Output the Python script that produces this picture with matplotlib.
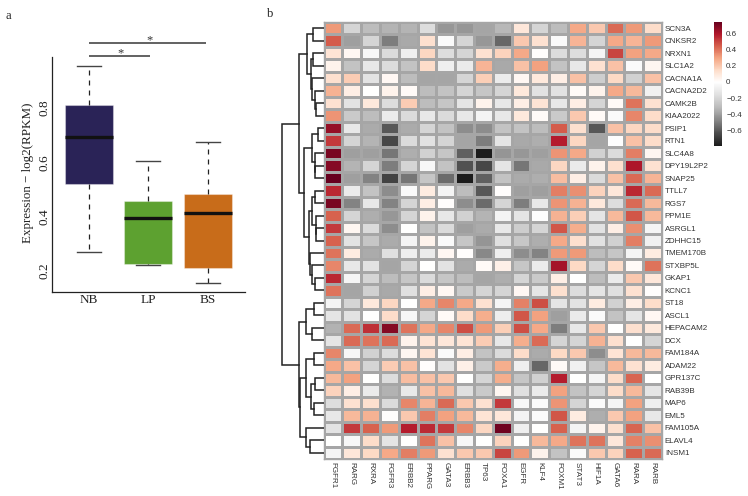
import numpy as np
import matplotlib
matplotlib.use('Agg')
import matplotlib.pyplot as plt
from matplotlib.colors import LinearSegmentedColormap, Normalize

W, H = 748, 496

groups = ['NB', 'LP', 'BS']
whisker_high = [0.953, 0.605, 0.673]
q3 = [0.809, 0.456, 0.482]
medians = [0.694, 0.394, 0.412]
q1 = [0.520, 0.226, 0.212]
whisker_low = [0.271, 0.221, 0.157]
box_colors = ['#2A2357', '#5DA130', '#C86C1A']
y_ticks = [0.2, 0.4, 0.6, 0.8]

genes = ['SCN3A', 'CNKSR2', 'NRXN1', 'SLC1A2', 'CACNA1A', 'CACNA2D2', 'CAMK2B', 'KIAA2022',
         'PSIP1', 'RTN1', 'SLC4A8', 'DPY19L2P2', 'SNAP25', 'TTLL7', 'RGS7', 'PPM1E', 'ASRGL1',
         'ZDHHC15', 'TMEM170B', 'STXBP5L', 'GKAP1', 'KCNC1', 'ST18', 'ASCL1', 'HEPACAM2', 'DCX',
         'FAM184A', 'ADAM22', 'GPR137C', 'RAB39B', 'MAP6', 'EML5', 'FAM105A', 'ELAVL4', 'INSM1']
factors = ['FGFR1', 'RARG', 'RXRA', 'FGFR3', 'ERBB2', 'PPARG', 'GATA3', 'ERBB3', 'TP63',
           'FOXA1', 'EGFR', 'KLF4', 'FOXM1', 'STAT3', 'HIF1A', 'GATA6', 'RARA', 'RARB']

corr = np.array([
    [0.32, -0.20, -0.30, -0.33, -0.33, -0.17, -0.42, -0.42, -0.38, -0.32, 0.10, -0.20, -0.30, 0.28, 0.20, 0.42, 0.32, 0.14],
    [0.45, -0.40, -0.20, -0.50, -0.37, 0.13, -0.03, -0.20, -0.42, -0.56, 0.20, 0.12, -0.03, 0.25, -0.20, 0.28, 0.25, 0.32],
    [0.11, 0.03, -0.04, -0.18, -0.08, 0.16, -0.17, -0.20, 0.12, 0.17, 0.28, 0.01, -0.17, -0.17, -0.05, 0.50, 0.30, 0.28],
    [0.05, -0.28, -0.12, -0.17, -0.28, 0.14, -0.08, -0.10, 0.25, -0.37, 0.22, 0.30, -0.28, -0.12, 0.12, 0.22, -0.03, 0.04],
    [0.13, 0.19, -0.14, 0.03, -0.30, -0.38, -0.38, -0.20, 0.18, -0.10, 0.03, 0.09, 0.07, 0.22, -0.23, 0.15, -0.22, 0.22],
    [0.26, 0.07, 0.00, 0.05, 0.02, -0.30, -0.28, -0.20, -0.27, -0.20, 0.09, -0.15, -0.15, 0.02, 0.05, 0.28, 0.24, -0.07],
    [0.12, -0.14, 0.09, -0.17, 0.19, -0.30, -0.27, -0.13, 0.05, -0.12, 0.07, 0.11, -0.12, 0.07, -0.20, 0.02, 0.40, 0.12],
    [0.33, -0.25, -0.30, -0.10, -0.18, -0.12, -0.18, -0.12, -0.06, -0.12, 0.09, 0.02, -0.25, 0.20, 0.02, -0.03, 0.36, 0.14],
    [0.65, -0.12, -0.36, -0.60, -0.36, -0.20, -0.28, -0.45, -0.46, -0.28, -0.28, -0.30, 0.45, 0.13, -0.60, 0.22, 0.16, 0.14],
    [0.52, -0.20, -0.33, -0.65, -0.18, -0.15, -0.20, -0.38, -0.50, -0.13, -0.37, -0.35, 0.58, 0.16, -0.38, -0.01, 0.22, 0.14],
    [0.70, -0.40, -0.40, -0.52, -0.35, -0.22, -0.27, -0.58, -0.78, -0.43, -0.42, -0.40, 0.33, 0.28, -0.22, -0.18, 0.38, 0.04],
    [0.68, -0.33, -0.20, -0.50, -0.20, -0.04, -0.28, -0.62, -0.65, -0.13, -0.52, -0.37, 0.16, -0.10, 0.05, 0.13, 0.60, 0.12],
    [0.75, -0.40, -0.48, -0.66, -0.52, -0.27, -0.55, -0.78, -0.58, -0.28, -0.36, -0.35, 0.23, 0.07, -0.18, 0.22, 0.42, 0.25],
    [0.56, -0.10, -0.28, -0.45, -0.03, 0.08, -0.06, -0.30, -0.60, 0.01, -0.40, -0.40, 0.38, 0.34, 0.17, 0.10, 0.56, 0.42],
    [0.70, -0.48, -0.12, -0.48, -0.20, 0.07, 0.01, -0.45, -0.55, -0.20, -0.50, -0.12, 0.33, 0.26, 0.09, -0.17, 0.42, 0.24],
    [0.44, -0.20, -0.35, -0.42, -0.20, 0.05, -0.12, -0.22, -0.33, -0.06, -0.13, -0.01, 0.26, 0.18, -0.13, 0.24, 0.46, 0.24],
    [0.52, 0.04, -0.18, -0.45, 0.00, -0.28, -0.18, -0.40, -0.36, -0.12, -0.24, -0.20, 0.46, 0.27, -0.15, 0.07, 0.34, -0.05],
    [0.44, -0.14, -0.27, -0.36, -0.06, 0.05, -0.03, -0.27, -0.43, -0.16, -0.26, -0.35, 0.28, 0.13, -0.15, -0.22, 0.38, -0.07],
    [0.40, 0.08, -0.36, -0.16, -0.09, -0.10, 0.03, 0.01, -0.47, -0.08, -0.45, -0.48, 0.32, 0.32, -0.30, -0.27, -0.05, 0.08],
    [0.36, -0.12, -0.15, -0.38, -0.20, 0.00, -0.14, -0.36, 0.02, 0.06, -0.27, -0.10, 0.62, 0.15, -0.20, 0.14, 0.02, 0.40],
    [0.56, -0.05, -0.20, -0.30, -0.27, -0.18, -0.27, -0.30, -0.38, -0.35, -0.20, -0.25, 0.07, 0.00, -0.30, -0.10, 0.20, 0.10],
    [0.40, -0.38, -0.22, -0.37, -0.16, 0.07, 0.03, -0.25, -0.20, -0.20, 0.03, -0.13, 0.13, -0.17, -0.13, -0.16, 0.12, 0.01],
    [-0.06, -0.20, 0.09, 0.16, 0.00, 0.28, 0.36, 0.28, 0.12, -0.05, 0.37, 0.48, -0.13, -0.14, 0.08, -0.22, 0.07, 0.14],
    [-0.13, -0.15, 0.00, 0.14, -0.04, -0.20, 0.02, 0.14, 0.27, -0.09, 0.46, 0.30, -0.40, -0.10, -0.03, -0.28, -0.13, 0.03],
    [-0.34, 0.42, 0.54, 0.68, 0.40, 0.28, 0.36, 0.48, 0.32, 0.18, 0.48, 0.28, -0.50, -0.12, 0.20, 0.00, 0.13, 0.09],
    [-0.13, 0.42, 0.40, 0.42, 0.05, 0.11, 0.10, 0.11, 0.19, -0.12, 0.27, 0.42, -0.20, -0.20, 0.26, 0.13, 0.00, -0.20],
    [0.36, -0.04, -0.22, -0.17, 0.04, 0.11, -0.03, 0.07, -0.28, -0.18, 0.14, -0.36, 0.15, 0.20, -0.45, 0.11, 0.24, 0.24],
    [0.28, 0.22, -0.20, 0.19, 0.22, 0.01, -0.14, 0.06, -0.25, 0.27, -0.08, -0.56, 0.02, -0.07, -0.27, 0.24, 0.12, 0.08],
    [0.24, 0.30, 0.00, -0.17, 0.23, 0.22, 0.20, 0.00, -0.20, 0.27, -0.27, -0.22, 0.58, 0.00, -0.06, 0.14, 0.43, 0.00],
    [0.17, 0.07, -0.10, -0.34, -0.11, 0.22, 0.24, -0.16, -0.25, 0.04, -0.16, -0.10, 0.30, -0.28, -0.20, 0.14, 0.24, -0.13],
    [-0.17, 0.12, 0.13, -0.18, 0.36, 0.25, 0.42, 0.20, 0.12, 0.52, -0.04, -0.03, 0.33, -0.20, -0.03, -0.05, 0.30, -0.08],
    [-0.12, 0.24, 0.26, 0.01, 0.20, 0.38, 0.30, 0.24, 0.11, 0.10, -0.06, -0.03, 0.46, 0.08, -0.35, 0.20, 0.30, -0.12],
    [-0.14, 0.52, 0.44, 0.32, 0.58, 0.55, 0.52, 0.36, 0.16, 0.72, -0.08, 0.00, 0.44, -0.06, 0.05, 0.13, 0.43, 0.22],
    [0.00, -0.04, 0.14, -0.13, 0.00, 0.40, 0.22, -0.04, 0.00, 0.17, 0.00, 0.24, 0.28, 0.40, 0.40, 0.10, 0.37, 0.34],
    [-0.05, 0.10, 0.15, 0.28, 0.38, 0.32, 0.12, 0.20, 0.20, 0.50, 0.32, 0.05, -0.28, -0.03, 0.20, 0.17, 0.44, 0.42],
])

# merges of the row tree: two children and a height, a child is a row index or 'nK' for merge K
merges = [
    (0, 1, 11), (2, 3, 11), (6, 7, 8), (5, 'n2', 8.5), (4, 'n3', 12), ('n1', 'n4', 13), ('n0', 'n5', 16.5),
    (8, 9, 5.5), (11, 12, 8.5), (10, 'n8', 9), ('n7', 'n9', 12),
    (13, 14, 8.5), (16, 17, 7.5), (15, 'n12', 7.5), ('n11', 'n13', 11.5), (20, 21, 8.5), (19, 'n15', 12),
    (18, 'n16', 13.5), ('n14', 'n17', 15), ('n10', 'n18', 20), ('n6', 'n19', 25),
    (22, 23, 9.5), (24, 25, 12), ('n21', 'n22', 17.5), (26, 27, 10), (28, 29, 8.5), (30, 31, 9.5),
    ('n25', 'n26', 13), ('n24', 'n27', 17.5), (33, 34, 14), (32, 'n29', 17.5), ('n28', 'n30', 23.5),
    ('n23', 'n31', 25), ('n20', 'n32', 42),
]

# red/white/grey scale, white sits at 0
cmap_colors = ['#1A1A1A', '#4D4D4D', '#878787', '#BABABA', '#E0E0E0', '#FFFFFF',
               '#FDDBC7', '#F4A582', '#D6604D', '#B2182B', '#67001F']
vmin, vmax = -0.79, 0.74
zero = -vmin / (vmax - vmin)
cmap_pos = list(np.linspace(0, zero, 6)) + list(np.linspace(zero, 1, 6))[1:]
cmap = LinearSegmentedColormap.from_list('rdgy', list(zip(cmap_pos, cmap_colors)), N=256)
norm = Normalize(vmin, vmax)


def px_axes(fig, left, top, right, bottom):
    return fig.add_axes([left / W, 1 - bottom / H, (right - left) / W, (bottom - top) / H])


fig = plt.figure(figsize=(W / 100, H / 100), dpi=100)
serif = 'Liberation Serif'
sans = 'Liberation Sans'

# panel a
ax = px_axes(fig, 51.7, 57, 245, 291.7)
stats = []
for i, g in enumerate(groups):
    stats.append({'label': g, 'med': medians[i], 'q1': q1[i], 'q3': q3[i],
                  'whislo': whisker_low[i], 'whishi': whisker_high[i], 'fliers': []})
bp = ax.bxp(stats, positions=[1, 2, 3], widths=0.8, patch_artist=True, showfliers=False,
            medianprops=dict(color='#111111', lw=2.4, solid_capstyle='butt'),
            whiskerprops=dict(color='#222222', lw=0.9, linestyle=(0, (4, 4))),
            capprops=dict(color='#444444', lw=1.0))
for patch, c in zip(bp['boxes'], box_colors):
    patch.set_facecolor(c)
    patch.set_edgecolor((1, 1, 1, 0.35))
    patch.set_linewidth(0.8)
ax.set_xlim(0.38, 3.62)
ax.set_ylim(0.124, 0.987)
ax.set_yticks(y_ticks)
ax.set_yticklabels(['%.1f' % t for t in y_ticks], rotation=90, va='center',
                   family=serif, fontsize=9.5, color='#222222')
ax.set_xticks([1, 2, 3])
ax.set_xticklabels(groups, family=serif, fontsize=9.5, color='#222222')
ax.tick_params(length=0, axis='both')
ax.tick_params(axis='x', pad=2)
ax.tick_params(axis='y', pad=1)
ax.set_ylabel('Expression \u2212 log2(RPKM)', family=serif, fontsize=9.4, color='#222222')
ax.yaxis.set_label_coords(-0.09, 0.505)
for s in ['top', 'right']:
    ax.spines[s].set_visible(False)
for s in ['left', 'bottom']:
    ax.spines[s].set_linewidth(0.9)
    ax.spines[s].set_color('#222222')

sig_ends = [2.02, 2.97]
sig_levels = [0.992, 1.039]
for end, lev in zip(sig_ends, sig_levels):
    ax.plot([1, end], [lev, lev], color='#555555', lw=1.3, clip_on=False, solid_capstyle='butt')
    ax.text((1 + end) / 2 + 0.03, lev - 0.012, '*', family=serif, fontsize=9, ha='center',
            va='bottom', color='#333333', clip_on=False)

# panel b heatmap
hm = px_axes(fig, 323.5, 22, 662, 459)
hm.pcolormesh(corr, cmap=cmap, norm=norm, edgecolors='#A6A6A6', linewidth=1.0)
hm.set_ylim(len(genes), 0)
hm.set_xlim(0, len(factors))
hm.set_yticks(np.arange(len(genes)) + 0.5)
hm.set_yticklabels(genes, family=sans, fontsize=5.8, color='#333333')
hm.yaxis.tick_right()
hm.set_xticks(np.arange(len(factors)) + 0.5)
hm.set_xticklabels(factors, family=sans, fontsize=5.8, color='#333333', rotation=270)
hm.tick_params(length=0, axis='both', pad=2)
for s in hm.spines.values():
    s.set_edgecolor('#A6A6A6')
    s.set_linewidth(1.0)

# row tree, left of the heatmap
tree = px_axes(fig, 279, 22, 323.5, 459)
tree.set_xlim(44.5, 0)
tree.set_ylim(len(genes), 0)
tree.axis('off')
nodes = {}
for k, (a, b, h) in enumerate(merges):
    pts = []
    for child in (a, b):
        if isinstance(child, str):
            pts.append(nodes[child])
        else:
            pts.append((child + 0.5, 0))
    (y0, h0), (y1, h1) = pts
    tree.plot([h0, h, h, h1], [y0, y0, y1, y1], color='#222222', lw=1.1, solid_joinstyle='miter')
    nodes['n%d' % k] = ((y0 + y1) / 2, h)

# colorbar
cax = px_axes(fig, 714, 22, 722, 146)
cb = fig.colorbar(plt.cm.ScalarMappable(norm=norm, cmap=cmap), cax=cax)
cb.set_ticks([-0.6, -0.4, -0.2, 0, 0.2, 0.4, 0.6])
cb.set_ticklabels(['\u22120.6', '\u22120.4', '\u22120.2', '0', '0.2', '0.4', '0.6'])
cb.outline.set_visible(False)
cax.tick_params(length=0, pad=3, labelsize=5.8, labelcolor='#333333')
for t in cax.get_yticklabels():
    t.set_family(sans)

fig.text(5 / W, 1 - 19 / H, 'a', family=serif, fontsize=9, color='#222222')
fig.text(267 / W, 1 - 17 / H, 'b', family=serif, fontsize=9, color='#222222')

fig.savefig('out.png', dpi=100)
